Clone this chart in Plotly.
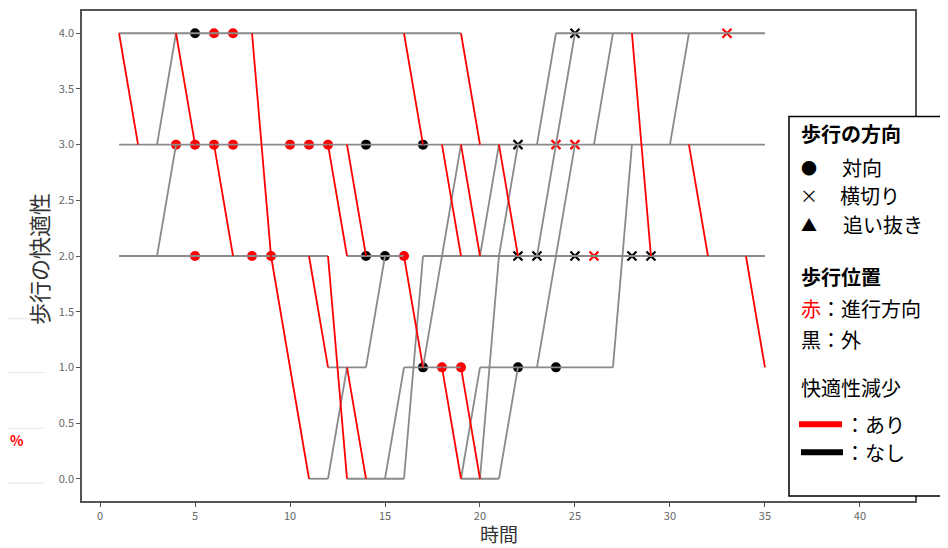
import plotly.graph_objects as go

# ---------------- data ----------------
# Horizontal (constant comfort) stretches: level, start time, end time
flat_level = [4, 4, 3, 2, 2, 2, 1, 1, 1, 0, 0, 0]
flat_start = [1, 24, 1, 1, 13, 17, 12, 16, 20, 11, 13, 19]
flat_end = [19, 35, 35, 12, 16, 35, 14, 19, 27, 12, 16, 21]

# Transitions between levels: time points and comfort values
trans_time = [
    [1, 2], [4, 5], [6, 7], [8, 9, 11], [11, 12], [12, 13], [12, 13], [13, 14],
    [13, 14], [16, 17], [16, 17], [18, 19], [19, 20], [19, 20], [18, 19], [19, 20],
    [21, 22], [28, 29], [31, 32], [34, 35],
    [3, 4], [3, 4], [12, 13], [14, 15], [15, 16], [16, 17], [17, 19], [19, 20],
    [20, 21], [20, 21, 22], [21, 22], [23, 24], [23, 25], [23, 25], [26, 27],
    [27, 28], [30, 31],
]
trans_value = [
    [4, 3], [4, 3], [3, 2], [4, 2, 0], [2, 1], [3, 2], [2, 0], [3, 2],
    [1, 0], [4, 3], [2, 1], [3, 2], [4, 3], [3, 2], [1, 0], [1, 0],
    [3, 2], [4, 2], [3, 2], [2, 1],
    [3, 4], [2, 3], [0, 1], [1, 2], [0, 1], [0, 2], [1, 3], [0, 1],
    [2, 3], [0, 2, 3], [0, 1], [3, 4], [2, 4], [1, 3], [3, 4],
    [1, 3], [3, 4],
]

# Markers: 対向 (dots) and 横切り (crosses); position 赤=進行方向, 黒=外
dot_time = [5, 6, 7, 4, 5, 6, 7, 10, 11, 12, 14, 17, 5, 8, 9, 14, 15, 16, 17, 18, 19, 22, 24]
dot_level = [4, 4, 4, 3, 3, 3, 3, 3, 3, 3, 3, 3, 2, 2, 2, 2, 2, 2, 1, 1, 1, 1, 1]
dot_pos = ["外", "進", "進", "進", "進", "進", "進", "進", "進", "進", "外", "外",
           "進", "進", "進", "外", "外", "進", "外", "進", "進", "外", "外"]

cross_time = [25, 33, 22, 24, 25, 22, 23, 25, 26, 28, 29]
cross_level = [4, 4, 3, 3, 3, 2, 2, 2, 2, 2, 2]
cross_pos = ["外", "進", "外", "進", "進", "外", "外", "外", "進", "外", "外"]

x_ticks = [0, 5, 10, 15, 20, 25, 30, 35, 40]
y_ticks = [0.0, 0.5, 1.0, 1.5, 2.0, 2.5, 3.0, 3.5, 4.0]

# ---------------- styling ----------------
GREY = "#8a8a8a"
RED = "#ff0000"
pos_color = {"進": RED, "外": "#000000"}
FONT = "Noto Sans CJK JP"

OFF = 8                      # default page margin of the html body
WIN_W, WIN_H = 948, 548
W, H = WIN_W - OFF, WIN_H - OFF
L, R, T, B = 82, 915, 9, 501  # plot area in window pixels


def px(x):
    return (x - L) / (R - L)


def py(y):
    return (B - y) / (B - T)


fig = go.Figure()

# markers underneath the lines
fig.add_trace(go.Scatter(
    x=dot_time, y=dot_level, mode="markers", showlegend=False, hoverinfo="skip",
    marker=dict(symbol="circle", size=10, color=[pos_color[p] for p in dot_pos],
                line=dict(width=0))))
fig.add_trace(go.Scatter(
    x=cross_time, y=cross_level, mode="markers", showlegend=False, hoverinfo="skip",
    marker=dict(symbol="x-thin", size=9, color=[pos_color[p] for p in cross_pos],
                line=dict(width=2.2, color=[pos_color[p] for p in cross_pos]))))

# build grey / red segments
gx, gy, rx, ry = [], [], [], []
for lv, s, e in zip(flat_level, flat_start, flat_end):
    gx += [s, e, None]
    gy += [lv, lv, None]
for ts, vs in zip(trans_time, trans_value):
    for i in range(len(ts) - 1):
        if vs[i + 1] < vs[i]:
            rx += [ts[i], ts[i + 1], None]
            ry += [vs[i], vs[i + 1], None]
        else:
            gx += [ts[i], ts[i + 1], None]
            gy += [vs[i], vs[i + 1], None]

fig.add_trace(go.Scatter(x=gx, y=gy, mode="lines", showlegend=False, hoverinfo="skip",
                         line=dict(color=GREY, width=1.8)))
fig.add_trace(go.Scatter(x=rx, y=ry, mode="lines", showlegend=False, hoverinfo="skip",
                         line=dict(color=RED, width=1.8)))

axis_common = dict(showgrid=False, zeroline=False, showline=True, linecolor="#555555",
                   linewidth=1.5, mirror=True, ticks="outside", ticklen=4,
                   tickcolor="#555555", tickwidth=1,
                   tickfont=dict(family=FONT, size=11, color="#666666"))

fig.update_layout(
    width=W, height=H,
    margin=dict(l=L - OFF, r=W - (R - OFF), t=T - OFF, b=H - (B - OFF), pad=0),
    paper_bgcolor="white", plot_bgcolor="white",
    xaxis=dict(range=[-0.95, 42.9], tickvals=x_ticks, ticktext=[str(v) for v in x_ticks],
               **axis_common),
    yaxis=dict(range=[-0.2, 4.2], tickvals=y_ticks, ticktext=[f"{v:.1f}" for v in y_ticks],
               **axis_common),
    font=dict(family=FONT),
)

ann = []
# axis titles
ann.append(dict(text="時間", x=0.5, y=py(534), xref="paper", yref="paper",
                showarrow=False, xanchor="center", yanchor="middle", borderpad=0,
                font=dict(family=FONT, size=19, color="#333333")))
ann.append(dict(text="歩行の快適性", x=px(38), y=py(258), xref="paper", yref="paper",
                showarrow=False, xanchor="center", yanchor="middle", textangle=-90,
                font=dict(family=FONT, size=22, color="#333333")))

# legend box
shapes = [dict(type="rect", xref="paper", yref="paper", x0=px(789), x1=px(941),
               y0=py(496), y1=py(115), line=dict(color="#000000", width=1.5),
               fillcolor="white", layer="above")]


def txt(s, x, y, size=20, bold=False, anchor="left", color="#000000"):
    if bold:
        s = "<b>" + s + "</b>"
    ann.append(dict(text=s, x=px(x), y=py(y), xref="paper", yref="paper",
                    showarrow=False, xanchor=anchor, yanchor="middle",
                    font=dict(family=FONT, size=size, color=color)))


txt("歩行の方向", 799, 132, bold=True)
txt("●", 809, 166, size=16, anchor="center")
txt("対向", 840, 166)
txt("×", 809, 194, size=18, anchor="center")
txt("横切り", 838, 194)
txt("▲", 809, 223, size=16, anchor="center")
txt("追い抜き", 841, 223)
txt("歩行位置", 799, 276, bold=True)
txt("<span style='color:#ff0000'>赤</span>：進行方向", 799, 308)
txt("黒：外", 799, 339)
txt("快適性減少", 799, 387)
txt("：あり", 843, 424)
txt("：なし", 843, 452)

shapes.append(dict(type="line", xref="paper", yref="paper", x0=px(799), x1=px(842),
                   y0=py(424), y1=py(424), line=dict(color=RED, width=6), layer="above"))
shapes.append(dict(type="line", xref="paper", yref="paper", x0=px(801), x1=px(843),
                   y0=py(452), y1=py(452), line=dict(color="#000000", width=6), layer="above"))

# faint remnants at the left edge of the screenshot
for yy in [318, 372, 428, 483]:
    shapes.append(dict(type="line", xref="paper", yref="paper", x0=px(OFF), x1=px(45),
                       y0=py(yy), y1=py(yy), line=dict(color="#e6e6e6", width=1)))
ann.append(dict(text="<b>%</b>", x=px(OFF), y=py(440), xref="paper", yref="paper",
                showarrow=False, xanchor="left", yanchor="middle",
                font=dict(family=FONT, size=14, color=RED)))

fig.update_layout(annotations=ann, shapes=shapes)
fig.write_html("out.html")
